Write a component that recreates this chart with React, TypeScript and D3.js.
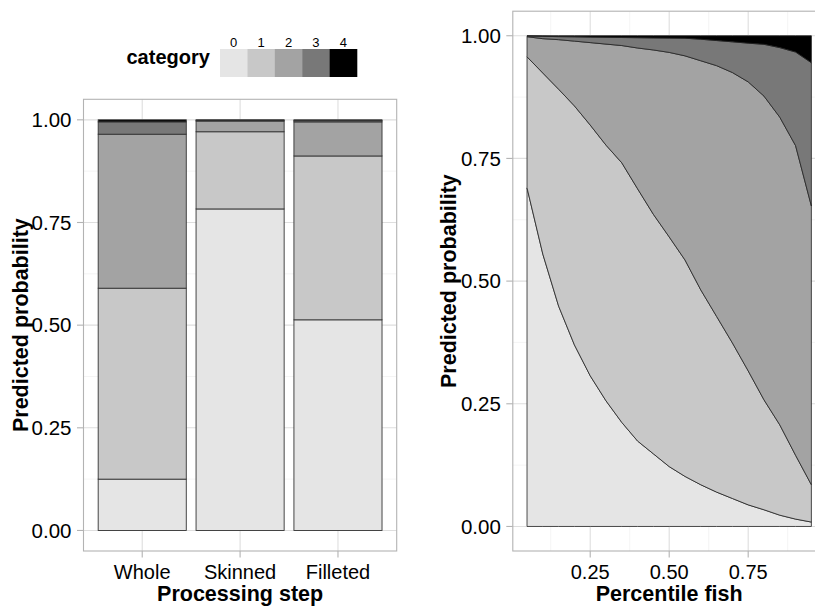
import { useRef, useEffect } from 'react';
import * as d3 from 'd3';

const categories = ['Whole', 'Skinned', 'Filleted'];
const levels = ['0', '1', '2', '3', '4'];
const greys = ['#E5E5E5', '#C8C8C8', '#A3A3A3', '#787878', '#000000'];

// predicted probability of each category per processing step
const prob0 = [0.125, 0.783, 0.513];
const prob1 = [0.465, 0.188, 0.399];
const prob2 = [0.375, 0.026, 0.083];
const prob3 = [0.030, 0.002, 0.003];
const prob4 = [0.005, 0.001, 0.002];

// cumulative predicted probability P(category <= k) along fish percentile
const percentile = [0.05, 0.10, 0.15, 0.20, 0.25, 0.30, 0.35, 0.40, 0.45, 0.50, 0.55, 0.60, 0.65, 0.70, 0.75, 0.80, 0.85, 0.90, 0.95];
const cum0 = [0.690, 0.555, 0.449, 0.370, 0.307, 0.256, 0.212, 0.174, 0.148, 0.122, 0.102, 0.085, 0.070, 0.057, 0.044, 0.034, 0.023, 0.015, 0.009];
const cum1 = [0.957, 0.924, 0.891, 0.857, 0.818, 0.777, 0.741, 0.688, 0.636, 0.590, 0.543, 0.482, 0.428, 0.374, 0.317, 0.258, 0.207, 0.145, 0.085];
const cum2 = [0.998, 0.994, 0.992, 0.989, 0.986, 0.983, 0.980, 0.975, 0.971, 0.966, 0.959, 0.949, 0.939, 0.925, 0.906, 0.877, 0.834, 0.776, 0.653];
const cum3 = [0.9995, 0.9988, 0.9982, 0.9978, 0.9972, 0.9968, 0.9964, 0.996, 0.9956, 0.9952, 0.9949, 0.9929, 0.9902, 0.9876, 0.9849, 0.9825, 0.9758, 0.9668, 0.945];

const yTicks = [0, 0.25, 0.5, 0.75, 1];
const yMinor = [0.125, 0.375, 0.625, 0.875];
const xTicks = [0.25, 0.5, 0.75];
const xMinor = [0.125, 0.375, 0.625, 0.875];

const font = 'Liberation Sans, Arial, Helvetica, sans-serif';

export default function App() {
  const svgRef = useRef(null);

  useEffect(() => {
    const svg = d3.select(svgRef.current);
    svg.selectAll('*').remove();

    // draws background grid, returns group for marks
    const panel = (box, xMaj, xMin, y) => {
      const g = svg.append('g');
      g.append('rect').attr('x', box.left).attr('y', box.top)
        .attr('width', box.right - box.left).attr('height', box.bottom - box.top)
        .attr('fill', 'white');
      xMin.forEach(x => g.append('line').attr('x1', x).attr('x2', x).attr('y1', box.top).attr('y2', box.bottom)
        .attr('stroke', '#EFEFEF').attr('stroke-width', 0.7));
      yMinor.forEach(v => g.append('line').attr('x1', box.left).attr('x2', box.right).attr('y1', y(v)).attr('y2', y(v))
        .attr('stroke', '#EFEFEF').attr('stroke-width', 0.7));
      xMaj.forEach(x => g.append('line').attr('x1', x).attr('x2', x).attr('y1', box.top).attr('y2', box.bottom)
        .attr('stroke', '#DEDEDE').attr('stroke-width', 1.1));
      yTicks.forEach(v => g.append('line').attr('x1', box.left).attr('x2', box.right).attr('y1', y(v)).attr('y2', y(v))
        .attr('stroke', '#DEDEDE').attr('stroke-width', 1.1));
      return g;
    };

    const axes = (box, xMaj, xLabels, y, xTitle, yTitleX) => {
      const g = svg.append('g').attr('font-family', font);
      g.append('rect').attr('x', box.left).attr('y', box.top)
        .attr('width', box.right - box.left).attr('height', box.bottom - box.top)
        .attr('fill', 'none').attr('stroke', '#B3B3B3').attr('stroke-width', 1.1);
      yTicks.forEach(v => {
        g.append('line').attr('x1', box.left - 6.5).attr('x2', box.left).attr('y1', y(v)).attr('y2', y(v))
          .attr('stroke', '#B3B3B3').attr('stroke-width', 1.1);
        g.append('text').attr('x', box.left - 12).attr('y', y(v) + 7.3).attr('text-anchor', 'end')
          .attr('font-size', 20.5).attr('fill', 'black').text(d3.format('.2f')(v));
      });
      xMaj.forEach((x, i) => {
        g.append('line').attr('x1', x).attr('x2', x).attr('y1', box.bottom).attr('y2', box.bottom + 6.5)
          .attr('stroke', '#B3B3B3').attr('stroke-width', 1.1);
        g.append('text').attr('x', x).attr('y', 579).attr('text-anchor', 'middle')
          .attr('font-size', 20).attr('fill', 'black').text(xLabels[i]);
      });
      g.append('text').attr('x', (box.left + box.right) / 2).attr('y', 601).attr('text-anchor', 'middle')
        .attr('font-size', 21.5).attr('font-weight', 'bold').text(xTitle);
      const cy = (box.top + box.bottom) / 2;
      g.append('text').attr('transform', `translate(${yTitleX},${cy}) rotate(-90)`).attr('text-anchor', 'middle')
        .attr('font-size', 21.5).attr('font-weight', 'bold').text('Predicted probability');
    };

    // left: stacked bars by processing step
    const L = { left: 83.5, right: 396.7, top: 99.3, bottom: 551 };
    const xBand = d3.scaleBand().domain(categories).range([L.left, L.right]).paddingInner(0.1).paddingOuter(0.15);
    const yLeft = d3.scaleLinear().domain([-0.05, 1.05]).range([L.bottom, L.top]);
    const centers = categories.map(c => xBand(c) + xBand.bandwidth() / 2);

    const rows = categories.map((c, i) => ({
      step: c, '0': prob0[i], '1': prob1[i], '2': prob2[i], '3': prob3[i], '4': prob4[i]
    }));
    const stacked = d3.stack().keys(levels)(rows);

    const gl = panel(L, centers, [], yLeft);
    stacked.forEach((layer, k) => {
      gl.append('g').selectAll('rect').data(layer).enter().append('rect')
        .attr('x', d => xBand(d.data.step))
        .attr('y', d => yLeft(d[1]))
        .attr('width', xBand.bandwidth())
        .attr('height', d => yLeft(d[0]) - yLeft(d[1]))
        .attr('fill', greys[k])
        .attr('stroke', '#333333')
        .attr('stroke-width', 0.9);
    });
    axes(L, centers, categories, yLeft, 'Processing step', 28);

    // right: stacked areas along percentile
    const R = { left: 512.8, right: 825.6, top: 11.2, bottom: 551 };
    const xLin = d3.scaleLinear().domain([0.005, 0.995]).range([R.left, R.right]);
    const yRight = d3.scaleLinear().domain([-0.05, 1.05]).range([R.bottom, R.top]);
    const bounds = [percentile.map(() => 0), cum0, cum1, cum2, cum3, percentile.map(() => 1)];

    const gr = panel(R, xTicks.map(xLin), xMinor.map(xLin), yRight);
    levels.forEach((lv, k) => {
      const area = d3.area()
        .x(i => xLin(percentile[i]))
        .y0(i => yRight(bounds[k][i]))
        .y1(i => yRight(bounds[k + 1][i]));
      gr.append('path').attr('d', area(d3.range(percentile.length)))
        .attr('fill', greys[k]).attr('stroke', '#222222').attr('stroke-width', 0.8);
    });
    axes(R, xTicks.map(xLin), xTicks.map(d3.format('.2f')), yRight, 'Percentile fish', 456);

    // legend
    const lg = svg.append('g').attr('font-family', font);
    lg.append('text').attr('x', 126.5).attr('y', 63.5).attr('font-size', 20).attr('font-weight', 'bold').text('category');
    const key = d3.scaleBand().domain(levels).range([220, 357]);
    levels.forEach((lv, k) => {
      lg.append('rect').attr('x', key(lv)).attr('y', 49).attr('width', key.bandwidth() + 0.3).attr('height', 28)
        .attr('fill', greys[k]);
      lg.append('text').attr('x', key(lv) + key.bandwidth() / 2).attr('y', 46.5).attr('text-anchor', 'middle')
        .attr('font-size', 13).text(lv);
    });
  }, []);

  return (
    <svg ref={svgRef} width={815} height={608} style={{ position: 'absolute', left: 0, top: 0, background: 'white' }} />
  );
}
